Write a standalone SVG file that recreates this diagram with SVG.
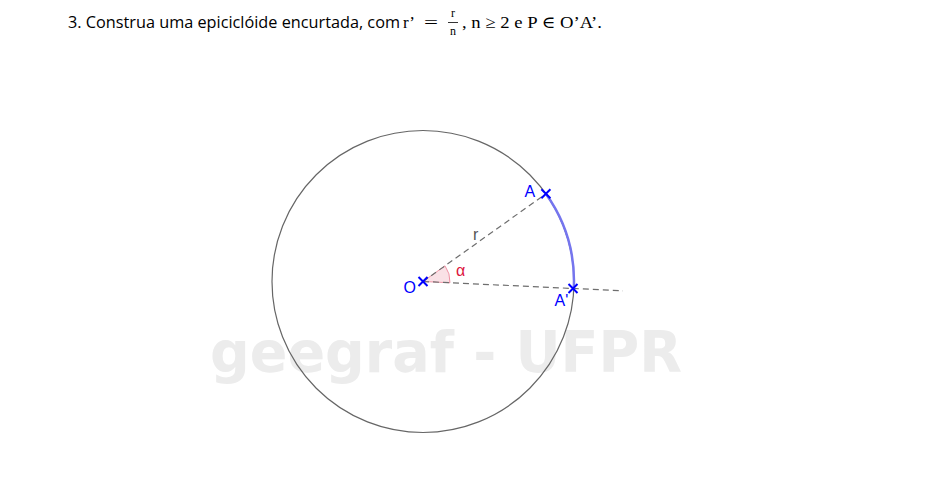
<svg xmlns="http://www.w3.org/2000/svg" width="950" height="487" viewBox="0 0 950 487">
<style>
.title{font-family:"Open Sans","Liberation Sans",sans-serif;font-size:16.5px;fill:#000}
.math{font-family:"Liberation Serif","DejaVu Serif",serif;font-size:17px;fill:#000}
.mathsm{font-family:"Liberation Serif","DejaVu Serif",serif;font-size:12px;fill:#000}
.wm{font-family:"DejaVu Sans","Liberation Sans",sans-serif;font-weight:bold;font-size:57px;fill:#ececec}
.lbl{font-family:"Liberation Sans","DejaVu Sans",sans-serif;font-size:16px;fill:#0000ff}
.dash{stroke:#6e6e6e;stroke-width:1.2;stroke-dasharray:6 4;fill:none}
.pt{stroke:#0000ff;stroke-width:2;fill:none}
</style>
<rect width="950" height="487" fill="#fff"/>
<g id="title">
<text class="title" x="68" y="28" textLength="332" lengthAdjust="spacingAndGlyphs">3. Construa uma epiciclóide encurtada, com</text>
<text class="math" x="403" y="28">r’</text>
<text class="math" x="424" y="28" textLength="14" lengthAdjust="spacingAndGlyphs">=</text>
<text class="mathsm" x="453" y="17" text-anchor="middle">r</text>
<line x1="448" y1="22.5" x2="458" y2="22.5" stroke="#000" stroke-width="0.8"/>
<text class="mathsm" x="453" y="35" text-anchor="middle">n</text>
<text class="math" x="462" y="28" textLength="140" lengthAdjust="spacingAndGlyphs">, n ≥ 2 e P ∈ O’A’.</text>
</g>
<g id="watermark">
<text class="wm" x="210" y="372" textLength="472" lengthAdjust="spacingAndGlyphs">geegraf - UFPR</text>
</g>
<g id="circle">
<circle cx="423" cy="281.5" r="151" fill="none" stroke="#666" stroke-width="1.2"/>
</g>
<g id="angle">
<path d="M423,281.5 L450,282.8 A27,27 0 0 0 445,265.8 Z" fill="#dc143c" fill-opacity="0.13" stroke="#dc143c" stroke-opacity="0.4" stroke-width="1"/>
</g>
<g id="connectors">
<line class="dash" x1="423" y1="281.5" x2="545.9" y2="193.8"/>
<line class="dash" x1="423" y1="281.5" x2="623" y2="290.8"/>
<path d="M545.9,193.8 A151,151 0 0 1 573.8,288.5" fill="none" stroke="#7575ee" stroke-width="2.5"/>
</g>
<g id="O">
<path class="pt" d="M418.5,277 L427.5,286 M418.5,286 L427.5,277"/>
<text class="lbl" x="403.5" y="293">O</text>
</g>
<g id="A">
<path class="pt" d="M541.4,189.3 L550.4,198.3 M541.4,198.3 L550.4,189.3"/>
<text class="lbl" x="524.5" y="196.5">A</text>
</g>
<g id="A2">
<path class="pt" d="M568.5,284 L577.5,293 M568.5,293 L577.5,284"/>
<text class="lbl" x="554.5" y="305.5">A'</text>
</g>
<g id="labels">
<text x="473" y="240" font-family="Liberation Sans,DejaVu Sans,sans-serif" font-size="16" fill="#555">r</text>
<text x="456" y="275.5" font-family="Liberation Sans,DejaVu Sans,sans-serif" font-size="16" fill="#dc143c">α</text>
</g>
</svg>
